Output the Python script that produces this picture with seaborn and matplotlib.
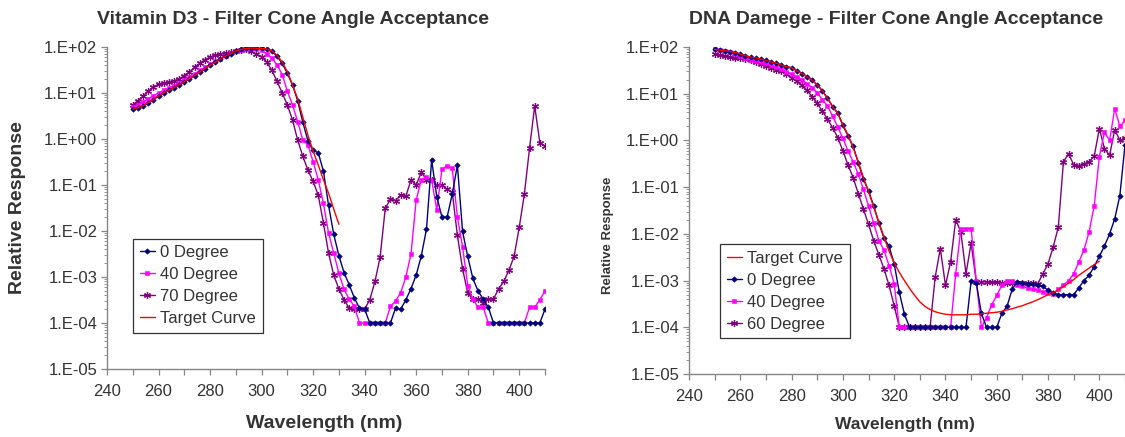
import numpy as np
import pandas as pd
import seaborn as sns
import matplotlib
matplotlib.use("Agg")
import matplotlib.pyplot as plt
from matplotlib.ticker import FixedLocator, FuncFormatter, LogLocator, NullFormatter, MultipleLocator

sns.set_theme(style="white")
plt.rcParams['font.family'] = ['Liberation Sans', 'DejaVu Sans']

# ---------------- data ----------------
wavelength = list(range(250, 411, 2))          # 81 points, nm
target_wl_vd3 = list(range(250, 331, 2))
target_wl_dna = list(range(250, 401, 2))

# Vitamin D3 chart
vd3_0deg = [4.4, 4.8, 5.3, 6.1, 7.2, 8.6, 10, 11.5, 13, 15,
            17.5, 20.5, 24, 28.5, 34, 40, 47, 55, 63, 72,
            82, 90, 94, 95, 94, 93, 91, 80, 63, 44,
            27, 15, 6.8, 2.3, 0.91, 0.57, 0.50, 0.20, 0.036, 0.0085,
            2.9e-3, 1.25e-3, 6.8e-4, 3.5e-4, 2.1e-4, 2.0e-4, 1e-4, 1e-4, 1e-4, 1e-4,
            1e-4, 2.1e-4, 2.0e-4, 3.2e-4, 5.6e-4, 1.1e-3, 2.9e-3, 0.011, 0.35, 0.056,
            0.020, 0.020, 0.063, 0.27, 0.0098, 2.8e-3, 9.3e-4, 5.0e-4, 3.3e-4, 2.2e-4,
            1e-4, 1e-4, 1e-4, 1e-4, 1e-4, 1e-4, 1e-4, 1e-4, 1e-4, 1e-4,
            2e-4]
vd3_40deg = [5.0, 5.6, 6.5, 7.5, 8.7, 10, 11.5, 12.8, 14.5, 16.5,
             19, 22, 26, 31, 36, 42, 49, 56, 64, 73,
             80, 87, 92, 94, 91, 84, 70, 57, 41, 25,
             11, 5.5, 2.4, 0.95, 0.74, 0.32, 0.13, 0.04, 0.009, 3.3e-3,
             1.2e-3, 5.4e-4, 3.3e-4, 2.3e-4, 1e-4, 1e-4, 1e-4, 1e-4, 1e-4, 1e-4,
             2.3e-4, 3.0e-4, 4.6e-4, 1.0e-3, 3.2e-3, 0.047, 0.13, 0.15, 0.13, 0.029,
             0.22, 0.26, 0.23, 0.020, 4.6e-3, 6.5e-4, 3.3e-4, 2.2e-4, 2.2e-4, 1e-4,
             1e-4, 1e-4, 1e-4, 1e-4, 1e-4, 1e-4, 1e-4, 2.2e-4, 2.2e-4, 3.2e-4,
             5e-4]
vd3_70deg = [5.5, 6.8, 8.5, 11, 13.7, 15.5, 16.5, 17.5, 18.5, 20,
             24, 29, 36, 44, 53, 60, 66, 70, 73, 78,
             82, 86, 90, 80, 70, 62, 47, 31, 18, 10,
             5.5, 2.6, 0.95, 0.42, 0.21, 0.12, 0.06, 0.015, 3.3e-3, 1.1e-3,
             5.5e-4, 3.2e-4, 2.1e-4, 2e-4, 2e-4, 2e-4, 3.2e-4, 8e-4, 2.7e-3, 0.031,
             0.049, 0.046, 0.06, 0.057, 0.13, 0.10, 0.19, 0.13, 0.13, 0.10,
             0.10, 0.08, 0.07, 8e-3, 1.5e-3, 4.5e-4, 3.3e-4, 3.3e-4, 2.7e-4, 3.3e-4,
             3.3e-4, 5.5e-4, 8e-4, 1.4e-3, 2.8e-3, 0.012, 0.064, 0.63, 5.2, 0.83,
             0.7]
vd3_target = [4.4, 4.8, 5.3, 6.1, 7.2, 8.6, 10, 11.5, 13, 15,
              17.5, 20.5, 24, 28.5, 34, 40, 47, 55, 63, 72,
              82, 89, 93, 95, 94, 93, 91, 82, 66, 47,
              29, 15, 7.5, 3.0, 1.2, 0.55, 0.27, 0.13, 0.066, 0.03,
              0.014]

# DNA damage chart
dna_0deg = [89, 86, 83, 80, 76, 71, 65, 61, 58, 55,
            52, 48, 45, 41, 38, 36, 31, 27, 23, 19.5,
            15.5, 11.5, 8, 5.3, 3.8, 2.1, 1.25, 0.75, 0.33, 0.15,
            0.083, 0.04, 0.017, 8.3e-3, 5.4e-3, 2.3e-3, 5.6e-4, 1.9e-4, 1e-4, 1e-4,
            1e-4, 1e-4, 1e-4, 1e-4, 1e-4, 1e-4, 1e-4, 1e-4, 1e-4, 1e-4,
            9.8e-4, 9e-4, 2e-4, 1e-4, 1e-4, 1e-4, 2e-4, 2.8e-4, 6.5e-4, 9.5e-4,
            9e-4, 8.5e-4, 8.5e-4, 8e-4, 7.5e-4, 6.2e-4, 5.5e-4, 5e-4, 5e-4, 5e-4,
            5e-4, 7e-4, 1e-3, 1.3e-3, 2e-3, 3.3e-3, 5.5e-3, 0.01, 0.021, 0.066,
            0.8]
dna_40deg = [92, 88, 84, 79, 72, 64, 57, 53, 50, 47,
             45, 41, 37, 33, 29, 26, 23, 20, 16.5, 13.5,
             10.5, 7.5, 5.5, 3.3, 1.95, 1.1, 0.6, 0.35, 0.19, 0.09,
             0.04, 0.017, 7.2e-3, 4.5e-3, 2.1e-3, 8.6e-4, 1e-4, 1e-4, 1e-4, 1e-4,
             1e-4, 1e-4, 1e-4, 1e-4, 1e-4, 1e-4, 1e-4, 1.4e-3, 0.013, 0.013,
             0.013, 1e-3, 1e-4, 1.6e-4, 3e-4, 4.8e-4, 8e-4, 1e-3, 1e-3, 8e-4,
             7.5e-4, 7e-4, 6.5e-4, 6.2e-4, 5.8e-4, 5.5e-4, 5.2e-4, 6.5e-4, 8e-4, 1e-3,
             1.4e-3, 2.5e-3, 4.5e-3, 0.011, 0.04, 0.45, 1.5, 1.0, 4.8, 2.0,
             2.7]
dna_60deg = [72, 68, 64, 61, 59, 57, 56, 52, 47, 43,
             39, 36, 32, 30, 27, 22, 18.5, 15, 11.8, 8.7,
             6.2, 4.2, 2.9, 1.85, 1.15, 0.6, 0.3, 0.16, 0.073, 0.034,
             0.016, 7.2e-3, 3.6e-3, 1.8e-3, 7.9e-4, 2.9e-4, 1e-4, 1e-4, 1e-4, 1e-4,
             1e-4, 1e-4, 1e-4, 1.2e-3, 4.8e-3, 7.9e-4, 2.5e-3, 0.02, 0.011, 1.4e-3,
             6.3e-3, 9.5e-4, 9.5e-4, 9.3e-4, 9.2e-4, 9.2e-4, 9e-4, 9e-4, 9e-4, 8.8e-4,
             8.8e-4, 8.7e-4, 8.7e-4, 8.6e-4, 1.4e-3, 2.3e-3, 5.2e-3, 0.014, 0.35, 0.52,
             0.30, 0.29, 0.31, 0.35, 0.46, 1.8, 0.66, 0.48, 1.7, 1.0,
             1.1]
dna_target = [89, 86, 83, 80, 76, 71, 65, 61, 58, 55,
              52, 48, 45, 41, 38, 36, 31, 27, 23, 19.5,
              15.5, 11.5, 8, 5.3, 3.8, 2.2, 1.3, 0.7, 0.35, 0.16,
              0.08, 0.038, 0.018, 8.5e-3, 4.3e-3, 2.4e-3, 1.5e-3, 1e-3, 6.8e-4, 4.8e-4,
              3.5e-4, 2.8e-4, 2.4e-4, 2.15e-4, 2e-4, 1.9e-4, 1.85e-4, 1.85e-4, 1.85e-4, 1.85e-4,
              1.9e-4, 1.9e-4, 1.95e-4, 2e-4, 2.05e-4, 2.1e-4, 2.2e-4, 2.35e-4, 2.5e-4, 2.7e-4,
              2.9e-4, 3.2e-4, 3.5e-4, 3.9e-4, 4.4e-4, 5e-4, 5.5e-4, 6.3e-4, 7.4e-4, 8.8e-4,
              1.05e-3, 1.3e-3, 1.55e-3, 1.85e-3, 2.2e-3, 2.6e-3]

x_ticks = [240, 260, 280, 300, 320, 340, 360, 380, 400]
y_ticks = [1e-5, 1e-4, 1e-3, 1e-2, 1e-1, 1e0, 1e1, 1e2]

# ---------------- styling ----------------
NAVY = "#000080"
MAGENTA = "#FF00FF"
PURPLE = "#800080"
RED = "#FF0000"
TXT = "#333333"
AXC = "#868686"

W, H = 1125, 437
fig = plt.figure(figsize=(W / 100, H / 100), dpi=100)
fig.patch.set_facecolor("white")


def px_axes(x0, x1, ytop, ybot):
    return fig.add_axes([x0 / W, 1 - ybot / H, (x1 - x0) / W, (ybot - ytop) / H])


ax1 = px_axes(107, 545, 47, 369)
ax2 = px_axes(689, 1125, 47, 374)

series_style = {
    "0": dict(color=NAVY, marker="D", markersize=2.8, markeredgewidth=0.4),
    "40": dict(color=MAGENTA, marker="s", markersize=2.8, markeredgewidth=0.4),
    "ang": dict(color=PURPLE, marker=(6, 2, 0), markersize=5.0, markeredgewidth=0.9),
    "t": dict(color=RED, marker=None),
}


def draw(ax, x, y, label, key, z):
    st = series_style[key]
    kw = dict(color=st["color"], linewidth=1.0, ax=ax, label=label, zorder=z)
    if st["marker"] is not None:
        kw.update(marker=st["marker"], markersize=st["markersize"],
                  markeredgecolor=st["color"], markerfacecolor=st["color"],
                  markeredgewidth=st["markeredgewidth"])
    sns.lineplot(x=x, y=y, **kw)


# left chart
draw(ax1, wavelength, vd3_0deg, "0 Degree", "0", 4)
draw(ax1, wavelength, vd3_40deg, "40 Degree", "40", 3)
draw(ax1, wavelength, vd3_70deg, "70 Degree", "ang", 2)
draw(ax1, target_wl_vd3, vd3_target, "Target Curve", "t", 5)

# right chart
draw(ax2, target_wl_dna, dna_target, "Target Curve", "t", 5)
draw(ax2, wavelength, dna_0deg, "0 Degree", "0", 4)
draw(ax2, wavelength, dna_40deg, "40 Degree", "40", 3)
draw(ax2, wavelength, dna_60deg, "60 Degree", "ang", 2)


def fmt(v, p):
    e = int(round(np.log10(v)))
    return f"1.E{e:+03d}"


for ax in (ax1, ax2):
    ax.set_yscale("log")
    ax.set_xlim(240, 410)
    ax.set_ylim(1e-5, 1e2)
    ax.set_facecolor("white")
    ax.xaxis.set_major_locator(FixedLocator(x_ticks))
    ax.xaxis.set_minor_locator(MultipleLocator(10))
    ax.yaxis.set_major_locator(FixedLocator(y_ticks))
    ax.yaxis.set_major_formatter(FuncFormatter(fmt))
    ax.yaxis.set_minor_locator(LogLocator(base=10, subs=np.arange(2, 10)))
    ax.yaxis.set_minor_formatter(NullFormatter())
    for s in ("top", "right"):
        ax.spines[s].set_visible(False)
    for s in ("left", "bottom"):
        ax.spines[s].set_color(AXC)
        ax.spines[s].set_linewidth(1.0)
    ax.tick_params(axis="both", which="major", direction="out", length=4, width=0.9,
                   color=AXC, labelcolor=TXT, labelsize=12, pad=3,
                   bottom=True, left=True)
    ax.tick_params(axis="x", which="minor", direction="out", length=4, width=0.9,
                   color=AXC, bottom=True)
    ax.tick_params(axis="y", which="minor", direction="out", length=2, width=0.6,
                   color=AXC, left=True)
    ax.tick_params(axis="x", which="major", pad=7)
    ax.set_xlabel("")
    ax.set_ylabel("")
    ax.grid(False)

# legends
for ax, anchor in ((ax1, (0.059, 0.112)), (ax2, (0.071, 0.109))):
    leg = ax.legend(loc="lower left", bbox_to_anchor=anchor, frameon=True,
                    fancybox=False, framealpha=1, edgecolor="#333333",
                    fontsize=12, handlelength=0.9, handletextpad=0.35,
                    labelspacing=0.42, borderpad=0.4, borderaxespad=0)
    leg.get_frame().set_linewidth(0.9)
    for t in leg.get_texts():
        t.set_color(TXT)

# titles & axis labels
fig.text(293 / W, 1 - 20 / H, "Vitamin D3 - Filter Cone Angle Acceptance",
         ha="center", va="center", fontsize=14, fontweight="bold", color=TXT)
fig.text(896 / W, 1 - 20 / H, "DNA Damege - Filter Cone Angle Acceptance",
         ha="center", va="center", fontsize=14, fontweight="bold", color=TXT)
fig.text(18 / W, 1 - 208 / H, "Relative Response", rotation=90,
         ha="center", va="center", fontsize=14, fontweight="bold", color=TXT)
fig.text(608 / W, 1 - 235 / H, "Relative Response", rotation=90,
         ha="center", va="center", fontsize=9.5, fontweight="bold", color=TXT)
fig.text(324 / W, 1 - 423 / H, "Wavelength (nm)",
         ha="center", va="center", fontsize=14, fontweight="bold", color=TXT)
fig.text(905 / W, 1 - 425 / H, "Wavelength (nm)",
         ha="center", va="center", fontsize=12.5, fontweight="bold", color=TXT)

fig.savefig("out.png", dpi=100, facecolor="white")
